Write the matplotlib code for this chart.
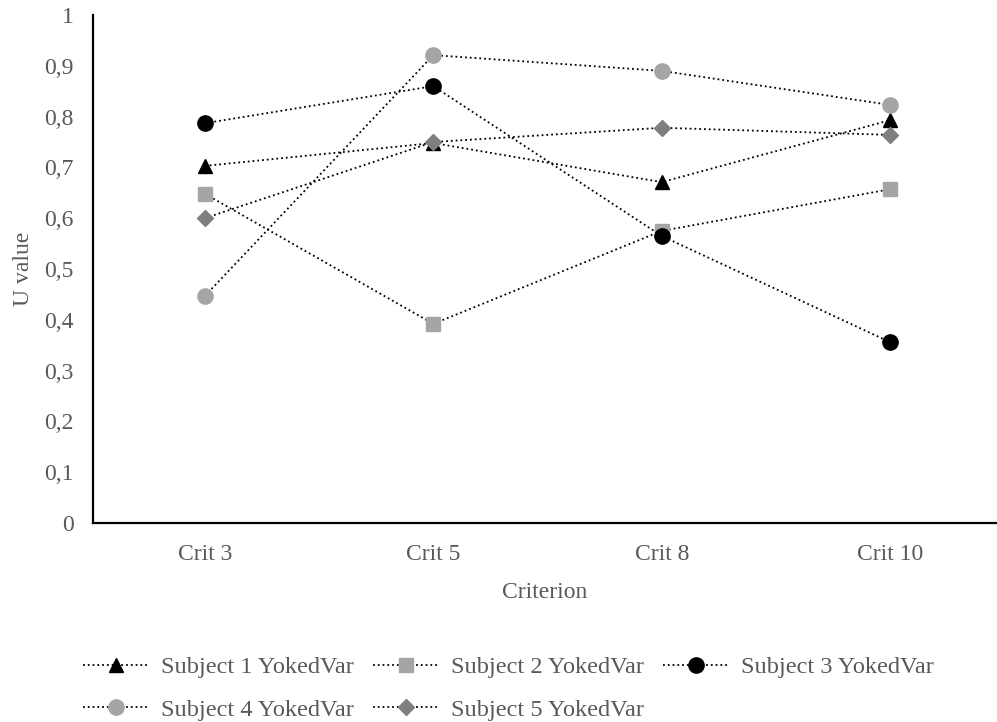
import numpy as np
import matplotlib.pyplot as plt

plt.rcParams['font.family'] = ['Liberation Serif', 'DejaVu Serif']

categories = ['Crit 3', 'Crit 5', 'Crit 8', 'Crit 10']
y_ticks = [0, 0.1, 0.2, 0.3, 0.4, 0.5, 0.6, 0.7, 0.8, 0.9, 1]
y_tick_labels = ['0', '0,1', '0,2', '0,3', '0,4', '0,5', '0,6', '0,7', '0,8', '0,9', '1']

subject1 = [0.703, 0.748, 0.671, 0.793]
subject2 = [0.648, 0.392, 0.575, 0.657]
subject3 = [0.787, 0.860, 0.565, 0.356]
subject4 = [0.447, 0.921, 0.890, 0.823]
subject5 = [0.600, 0.750, 0.778, 0.764]

series = [
    ('Subject 1 YokedVar', subject1, '^', 'black', 10),
    ('Subject 2 YokedVar', subject2, 's', '#A5A5A5', 9.5),
    ('Subject 3 YokedVar', subject3, 'o', 'black', 11),
    ('Subject 4 YokedVar', subject4, 'o', '#A5A5A5', 11),
    ('Subject 5 YokedVar', subject5, 'D', '#7F7F7F', 8.5),
]

txt = '#595959'
fs = 17

fig = plt.figure(figsize=(9.97, 7.22), dpi=100)
ax = fig.add_axes([93 / 997, (722 - 523) / 722, (997 - 93) / 997, (523 - 15) / 722])

x = np.arange(len(categories))
lines = []
for name, vals, mk, col, ms in series:
    l, = ax.plot(x, vals, linestyle=':', color='black', linewidth=1.3,
                 marker=mk, markersize=ms, markerfacecolor=col, markeredgecolor=col,
                 label=name)
    lines.append(l)

ax.set_xlim(-0.49, 3.468)
ax.set_ylim(0, 1)
ax.set_xticks(x)
ax.set_xticklabels(categories)
ax.set_yticks(y_ticks)
ax.set_yticklabels(y_tick_labels)
ax.tick_params(length=0, labelsize=fs, labelcolor=txt)
ax.tick_params(axis='y', pad=14)
ax.tick_params(axis='x', pad=15)

for s in ['top', 'right']:
    ax.spines[s].set_visible(False)
for s in ['left', 'bottom']:
    ax.spines[s].set_linewidth(1.6)
    ax.spines[s].set_color('black')

ax.set_xlabel('Criterion', fontsize=fs, color=txt, labelpad=12)
ax.set_ylabel('U value', fontsize=fs, color=txt, labelpad=7)

# matplotlib fills legend columns first, reorder so rows read 1,2,3 / 4,5
order = [0, 3, 1, 4, 2]
fig.legend([lines[i] for i in order], [series[i][0] for i in order],
           loc='upper left', bbox_to_anchor=(83 / 997, 1 - 656 / 722), ncol=3,
           frameon=False, fontsize=17.5, labelcolor=txt, handlelength=2.7,
           handletextpad=0.5, columnspacing=0.8, labelspacing=0.85,
           borderaxespad=0, borderpad=0)

fig.savefig('out.png', dpi=100)
